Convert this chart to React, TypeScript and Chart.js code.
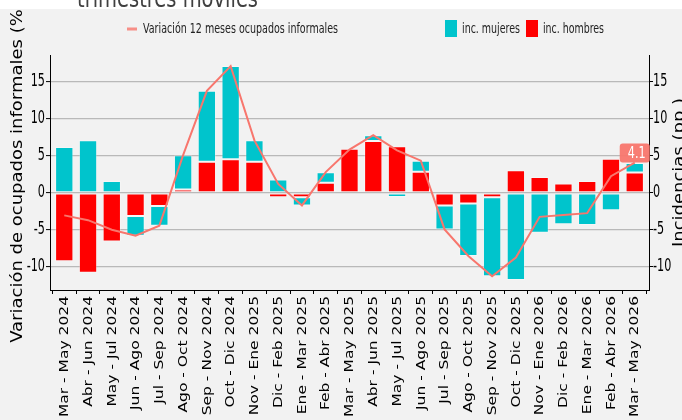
import React, { useEffect, useRef } from 'react';
import { Chart, registerables } from 'chart.js';

Chart.register(...registerables);

const xLabels = [
  'Mar - May 2024', 'Abr - Jun 2024', 'May - Jul 2024', 'Jun - Ago 2024', 'Jul - Sep 2024',
  'Ago - Oct 2024', 'Sep - Nov 2024', 'Oct - Dic 2024', 'Nov - Ene 2025', 'Dic - Feb 2025',
  'Ene - Mar 2025', 'Feb - Abr 2025', 'Mar - May 2025', 'Abr - Jun 2025', 'May - Jul 2025',
  'Jun - Ago 2025', 'Jul - Sep 2025', 'Ago - Oct 2025', 'Sep - Nov 2025', 'Oct - Dic 2025',
  'Nov - Ene 2026', 'Dic - Feb 2026', 'Ene - Mar 2026', 'Feb - Abr 2026', 'Mar - May 2026',
];

const hombres = [
  -9.25, -10.8, -6.6, -3.15, -1.8, 0.45, 4.2, 4.55, 4.2, -0.6,
  -0.6, 1.35, 5.95, 7.0, 6.3, 2.85, -1.7, -1.45, -0.6, 3.05,
  2.15, 1.25, 1.6, 4.6, 2.75,
];

const mujeres = [
  6.2, 7.1, 1.6, -2.65, -2.65, 4.65, 9.6, 12.6, 2.9, 1.8,
  -1.1, 1.45, -0.1, 0.8, -0.55, 1.5, -3.25, -7.1, -10.7, -11.8,
  -5.4, -4.25, -4.35, -2.35, 1.3,
];

const variacion = [
  -3.05, -3.7, -5.0, -5.8, -4.45, 5.1, 13.8, 17.15, 7.1, 1.2,
  -1.7, 2.8, 5.85, 7.8, 5.75, 4.35, -4.95, -8.55, -11.3, -8.75,
  -3.25, -3.0, -2.75, 2.25, 4.1,
];

const yTicks = [-10, -5, 0, 5, 10, 15];
const lastValueLabel = '4.1';

const titleText = 'trimestres móviles';
const leftTitle = 'Variación de ocupados informales (%)';
const rightTitle = 'Incidencias (pp.)';
const legendLine = 'Variación 12 meses ocupados informales';
const legendMujeres = 'inc. mujeres';
const legendHombres = 'inc. hombres';

const SANS = "'DejaVu Sans', sans-serif";
const BG = '#f2f2f2';
const CYAN = '#00c4cc';
const RED = '#ff0000';
const SALMON = '#f8766d';

function squeezed(ctx: CanvasRenderingContext2D, text: string, x: number, y: number, font: string, sx: number, align: CanvasTextAlign, baseline: CanvasTextBaseline, color: string) {
  ctx.save();
  ctx.font = font;
  ctx.fillStyle = color;
  ctx.textAlign = align;
  ctx.textBaseline = baseline;
  ctx.translate(x, y);
  ctx.scale(sx, 1);
  ctx.fillText(text, 0, 0);
  ctx.restore();
}

function squeezedVertical(ctx: CanvasRenderingContext2D, text: string, x: number, y: number, font: string, sx: number, align: CanvasTextAlign, color: string) {
  ctx.save();
  ctx.font = font;
  ctx.fillStyle = color;
  ctx.textAlign = align;
  ctx.textBaseline = 'middle';
  ctx.translate(x, y);
  ctx.scale(sx, 1);
  ctx.rotate(-Math.PI / 2);
  ctx.fillText(text, 0, 0);
  ctx.restore();
}

function fitFactor(ctx: CanvasRenderingContext2D, text: string, font: string, targetW: number) {
  ctx.save();
  ctx.font = font;
  const w = ctx.measureText(text).width;
  ctx.restore();
  return w > 0 ? targetW / w : 1;
}

export default function App() {
  const ref = useRef<HTMLCanvasElement>(null);

  useEffect(() => {
    const canvas = ref.current;
    if (!canvas) return;

    const decor = {
      id: 'decor',
      beforeDraw(chart: any) {
        const { ctx, width, height } = chart;
        ctx.save();
        ctx.fillStyle = BG;
        ctx.fillRect(0, 0, width, height);
        ctx.restore();
      },
      afterDraw(chart: any) {
        const { ctx, chartArea, width } = chart;
        const cy = (chartArea.top + chartArea.bottom) / 2;
        const xs = chart.scales.x;
        const ys = chart.scales.y;

        // y tick labels (both sides)
        const tickFont = `17px ${SANS}`;
        for (const v of yTicks) {
          const py = ys.getPixelForValue(v);
          squeezed(ctx, String(v), chartArea.left - 5, py, tickFont, 0.66, 'right', 'middle', '#000');
          squeezed(ctx, String(v), chartArea.right + 4, py, tickFont, 0.66, 'left', 'middle', '#000');
        }

        // x tick labels (rotated)
        const xFont = `15.5px ${SANS}`;
        xLabels.forEach((lab, i) => {
          const px = xs.getPixelForValue(i);
          squeezedVertical(ctx, lab, px + 0.5, chartArea.bottom + 6, xFont, 0.8, 'right', '#000');
        });

        // axis titles
        squeezedVertical(ctx, leftTitle, 18, cy, `18px ${SANS}`, 0.88, 'center', '#000');
        squeezedVertical(ctx, rightTitle, 680, cy, `18px ${SANS}`, 0.88, 'center', '#000');

        // legend
        ctx.save();
        ctx.strokeStyle = 'rgba(248,118,109,0.8)';
        ctx.lineWidth = 3;
        ctx.beginPath();
        ctx.moveTo(127, 29);
        ctx.lineTo(137, 29);
        ctx.stroke();
        ctx.fillStyle = CYAN;
        ctx.fillRect(445, 20, 12, 17);
        ctx.fillStyle = RED;
        ctx.fillRect(526, 20, 12, 17);
        ctx.restore();
        const legFont = `14px ${SANS}`;
        squeezed(ctx, legendLine, 143, 29, legFont, fitFactor(ctx, legendLine, legFont, 195), 'left', 'middle', '#222');
        squeezed(ctx, legendMujeres, 462, 29, legFont, fitFactor(ctx, legendMujeres, legFont, 58), 'left', 'middle', '#222');
        squeezed(ctx, legendHombres, 543, 29, legFont, fitFactor(ctx, legendHombres, legFont, 61), 'left', 'middle', '#222');

        // last value label
        const last = variacion.length - 1;
        const px = xs.getPixelForValue(last);
        const py = ys.getPixelForValue(variacion[last]);
        ctx.save();
        ctx.fillStyle = 'rgba(248,118,109,0.95)';
        const bw = 30, bh = 19, r = 3;
        const bx = px - bw / 2, by = py - bh;
        ctx.beginPath();
        ctx.moveTo(bx + r, by);
        ctx.lineTo(bx + bw - r, by);
        ctx.quadraticCurveTo(bx + bw, by, bx + bw, by + r);
        ctx.lineTo(bx + bw, by + bh - r);
        ctx.quadraticCurveTo(bx + bw, by + bh, bx + bw - r, by + bh);
        ctx.lineTo(bx + r, by + bh);
        ctx.quadraticCurveTo(bx, by + bh, bx, by + bh - r);
        ctx.lineTo(bx, by + r);
        ctx.quadraticCurveTo(bx, by, bx + r, by);
        ctx.closePath();
        ctx.fill();
        ctx.restore();
        squeezed(ctx, lastValueLabel, px + 2, by + bh / 2 + 0.5, `16px ${SANS}`, 0.7, 'center', 'middle', '#fff');

        // top white strip with clipped title
        ctx.save();
        ctx.fillStyle = '#fff';
        ctx.fillRect(0, 0, width, 9);
        ctx.restore();
        const tFont = `24px ${SANS}`;
        squeezed(ctx, titleText, 77, 7, tFont, fitFactor(ctx, titleText, tFont, 181), 'left', 'alphabetic', '#404040');
      },
    };

    const yMin = -13.15;
    const yMax = 18.65;

    const chart = new Chart(canvas, {
      type: 'bar',
      data: {
        datasets: [
          {
            type: 'line',
            label: legendLine,
            data: variacion.map((y, i) => ({ x: i, y })),
            borderColor: SALMON,
            borderWidth: 2,
            pointRadius: 0,
            tension: 0,
            order: 0,
            stack: 'linea',
            yAxisID: 'y',
          } as any,
          {
            type: 'bar',
            label: legendHombres,
            data: hombres.map((y, i) => ({ x: i, y })),
            backgroundColor: RED,
            borderColor: 'rgba(255,255,255,0.3)',
            borderWidth: 1,
            borderSkipped: false,
            categoryPercentage: 0.77,
            barPercentage: 1,
            order: 1,
            stack: 'inc',
            yAxisID: 'y',
          } as any,
          {
            type: 'bar',
            label: legendMujeres,
            data: mujeres.map((y, i) => ({ x: i, y })),
            backgroundColor: CYAN,
            borderColor: 'rgba(255,255,255,0.3)',
            borderWidth: 1,
            borderSkipped: false,
            categoryPercentage: 0.77,
            barPercentage: 1,
            order: 1,
            stack: 'inc',
            yAxisID: 'y',
          } as any,
        ],
      },
      options: {
        responsive: false,
        animation: false,
        devicePixelRatio: 1,
        layout: { padding: { top: 55, left: 0, right: 0, bottom: 0 } },
        plugins: { legend: { display: false }, tooltip: { enabled: false } },
        scales: {
          x: {
            type: 'linear',
            min: -0.6,
            max: 24.6,
            stacked: true,
            offset: false,
            afterBuildTicks: (s: any) => {
              s.ticks = xLabels.map((_, i) => ({ value: i }));
            },
            afterFit: (s: any) => {
              s.height = 130;
            },
            grid: { drawOnChartArea: false, drawTicks: true, tickLength: 4, tickColor: '#000', tickWidth: 1 },
            border: { display: true, color: '#000', width: 1 },
            ticks: { display: false, autoSkip: false },
          },
          y: {
            position: 'left',
            min: yMin,
            max: yMax,
            stacked: true,
            afterBuildTicks: (s: any) => {
              s.ticks = yTicks.map((v) => ({ value: v }));
            },
            afterFit: (s: any) => {
              s.width = 50;
            },
            grid: { color: '#b9b9b9', lineWidth: 1.2, drawTicks: true, tickLength: 4, tickColor: '#000', tickWidth: 1 },
            border: { display: true, color: '#000', width: 1 },
            ticks: { display: false },
          },
          y2: {
            position: 'right',
            min: yMin,
            max: yMax,
            afterBuildTicks: (s: any) => {
              s.ticks = yTicks.map((v) => ({ value: v }));
            },
            afterFit: (s: any) => {
              s.width = 33;
            },
            grid: { drawOnChartArea: false, drawTicks: true, tickLength: 4, tickColor: '#000', tickWidth: 1 },
            border: { display: true, color: '#000', width: 1 },
            ticks: { display: false },
          },
        },
      } as any,
      plugins: [decor],
    });

    return () => chart.destroy();
  }, []);

  return (
    <div style={{ position: 'fixed', left: 0, top: 0, width: 682, height: 420 }}>
      <canvas ref={ref} width={682} height={420} style={{ display: 'block' }} />
    </div>
  );
}
